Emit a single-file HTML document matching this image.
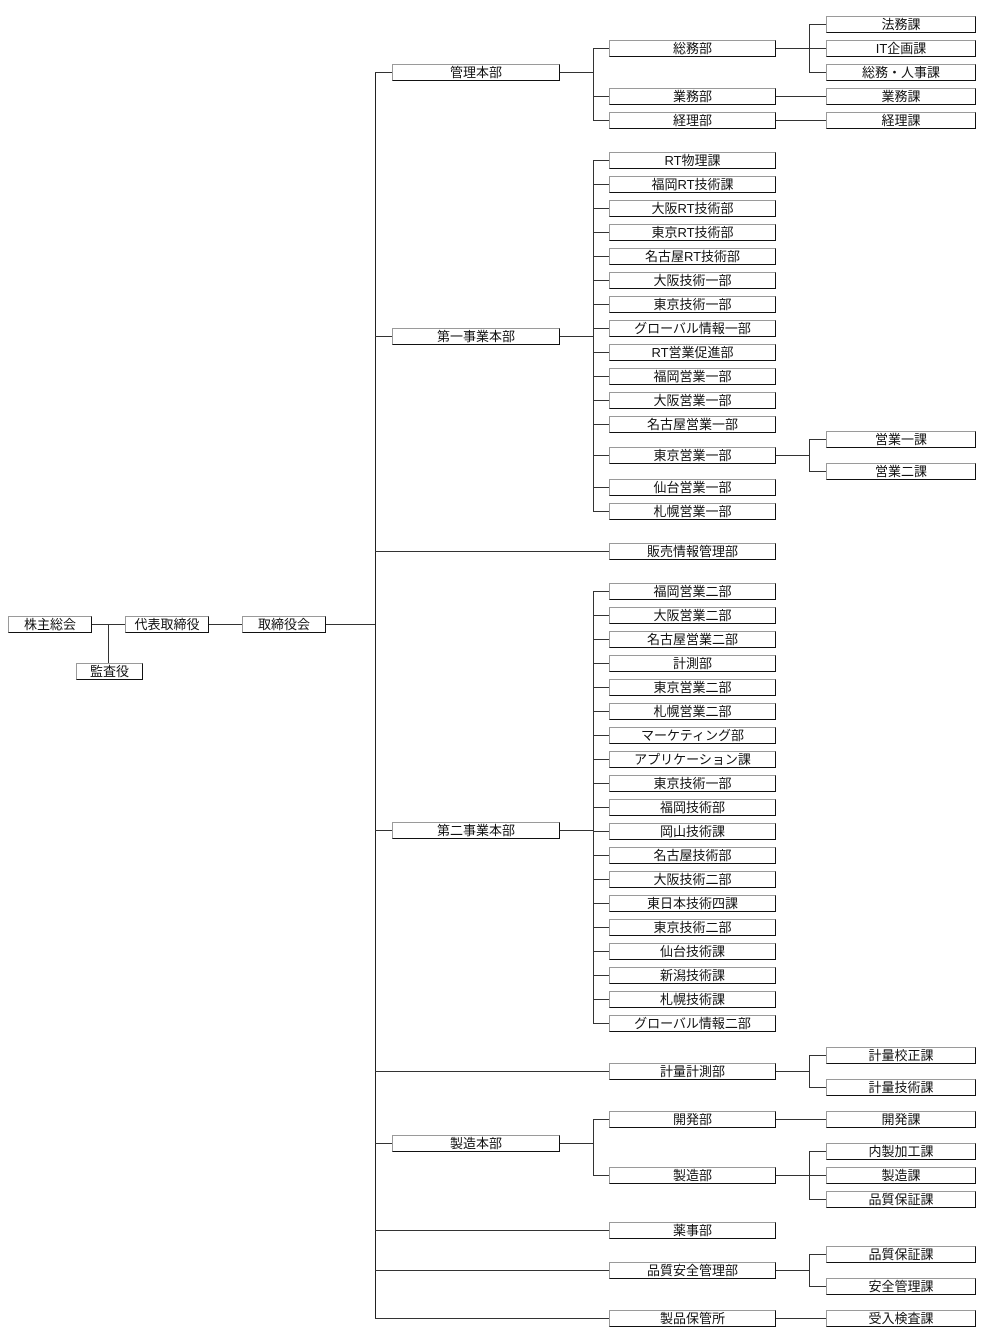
<!DOCTYPE html>
<html lang="ja">
<head>
<meta charset="utf-8">
<style>
html,body{margin:0;padding:0;background:#fff;}
body{width:994px;height:1335px;position:relative;overflow:hidden;font-family:"Liberation Sans","Noto Sans CJK JP",sans-serif;}
svg{position:absolute;left:0;top:0;}
.b{position:absolute;height:17px;box-sizing:border-box;border-style:solid;border-width:1px;border-color:#9a9a9a #111 #111 #9a9a9a;background:#fff;font-size:13px;line-height:16px;text-align:center;color:#111;white-space:nowrap;}
.a{width:84px;}
.h{left:392px;width:168px;}
.c{left:609px;width:167px;}
.d{left:826px;width:150px;}
</style>
</head>
<body>
<svg width="994" height="1335" viewBox="0 0 994 1335" shape-rendering="crispEdges" fill="none" stroke="#333" stroke-width="1">
<path d="M92 624.5H125M108.5 624V663M209 624.5H242M326 624.5H375.5"/>
<path d="M375.5 72V1318.5" stroke="#222"/>
<path d="M375 72.5H392M375 336.5H392M375 551.5H609M375 830.5H392M375 1071.5H609M375 1143.5H392M375 1230.5H609M375 1270.5H609M375 1318.5H609"/>
<path d="M560 72.5H593M593.5 48V120.5M593 48.5H609M593 96.5H609M593 120.5H609"/>
<path d="M776 48.5H809M809.5 24V72.5M809 24.5H826M809 48.5H826M809 72.5H826M776 96.5H826M776 120.5H826"/>
<path d="M560 336.5H593M593.5 160V511.5"/>
<path d="M593 160.5H609M593 184.5H609M593 208.5H609M593 232.5H609M593 256.5H609M593 280.5H609M593 304.5H609M593 328.5H609M593 352.5H609M593 376.5H609M593 400.5H609M593 424.5H609M593 455.5H609M593 487.5H609M593 511.5H609"/>
<path d="M776 455.5H809M809.5 439V471.5M809 439.5H826M809 471.5H826"/>
<path d="M560 830.5H593M593.5 591V1023.5"/>
<path d="M593 591.5H609M593 615.5H609M593 639.5H609M593 663.5H609M593 687.5H609M593 711.5H609M593 735.5H609M593 759.5H609M593 783.5H609M593 807.5H609M593 831.5H609M593 855.5H609M593 879.5H609M593 903.5H609M593 927.5H609M593 951.5H609M593 975.5H609M593 999.5H609M593 1023.5H609"/>
<path d="M776 1071.5H809M809.5 1055V1087.5M809 1055.5H826M809 1087.5H826"/>
<path d="M560 1143.5H593M593.5 1119V1175.5M593 1119.5H609M593 1175.5H609"/>
<path d="M776 1119.5H826M776 1175.5H809M809.5 1151V1199.5M809 1151.5H826M809 1175.5H826M809 1199.5H826"/>
<path d="M776 1270.5H809M809.5 1254V1286.5M809 1254.5H826M809 1286.5H826"/>
<path d="M776 1318.5H826"/>
</svg>

<div class="b a" style="left:8px;top:616px;">株主総会</div>
<div class="b a" style="left:125px;top:616px;">代表取締役</div>
<div class="b a" style="left:242px;top:616px;">取締役会</div>
<div class="b" style="left:76px;top:663px;width:67px;">監査役</div>

<div class="b h" style="top:64px;">管理本部</div>
<div class="b h" style="top:328px;">第一事業本部</div>
<div class="b h" style="top:822px;">第二事業本部</div>
<div class="b h" style="top:1135px;">製造本部</div>

<div class="b c" style="top:40px;">総務部</div>
<div class="b c" style="top:88px;">業務部</div>
<div class="b c" style="top:112px;">経理部</div>

<div class="b c" style="top:152px;">RT物理課</div>
<div class="b c" style="top:176px;">福岡RT技術課</div>
<div class="b c" style="top:200px;">大阪RT技術部</div>
<div class="b c" style="top:224px;">東京RT技術部</div>
<div class="b c" style="top:248px;">名古屋RT技術部</div>
<div class="b c" style="top:272px;">大阪技術一部</div>
<div class="b c" style="top:296px;">東京技術一部</div>
<div class="b c" style="top:320px;">グローバル情報一部</div>
<div class="b c" style="top:344px;">RT営業促進部</div>
<div class="b c" style="top:368px;">福岡営業一部</div>
<div class="b c" style="top:392px;">大阪営業一部</div>
<div class="b c" style="top:416px;">名古屋営業一部</div>
<div class="b c" style="top:447px;">東京営業一部</div>
<div class="b c" style="top:479px;">仙台営業一部</div>
<div class="b c" style="top:503px;">札幌営業一部</div>

<div class="b c" style="top:543px;">販売情報管理部</div>

<div class="b c" style="top:583px;">福岡営業二部</div>
<div class="b c" style="top:607px;">大阪営業二部</div>
<div class="b c" style="top:631px;">名古屋営業二部</div>
<div class="b c" style="top:655px;">計測部</div>
<div class="b c" style="top:679px;">東京営業二部</div>
<div class="b c" style="top:703px;">札幌営業二部</div>
<div class="b c" style="top:727px;">マーケティング部</div>
<div class="b c" style="top:751px;">アプリケーション課</div>
<div class="b c" style="top:775px;">東京技術一部</div>
<div class="b c" style="top:799px;">福岡技術部</div>
<div class="b c" style="top:823px;">岡山技術課</div>
<div class="b c" style="top:847px;">名古屋技術部</div>
<div class="b c" style="top:871px;">大阪技術二部</div>
<div class="b c" style="top:895px;">東日本技術四課</div>
<div class="b c" style="top:919px;">東京技術二部</div>
<div class="b c" style="top:943px;">仙台技術課</div>
<div class="b c" style="top:967px;">新潟技術課</div>
<div class="b c" style="top:991px;">札幌技術課</div>
<div class="b c" style="top:1015px;">グローバル情報二部</div>

<div class="b c" style="top:1063px;">計量計測部</div>
<div class="b c" style="top:1111px;">開発部</div>
<div class="b c" style="top:1167px;">製造部</div>
<div class="b c" style="top:1222px;">薬事部</div>
<div class="b c" style="top:1262px;">品質安全管理部</div>
<div class="b c" style="top:1310px;">製品保管所</div>

<div class="b d" style="top:16px;">法務課</div>
<div class="b d" style="top:40px;">IT企画課</div>
<div class="b d" style="top:64px;">総務・人事課</div>
<div class="b d" style="top:88px;">業務課</div>
<div class="b d" style="top:112px;">経理課</div>
<div class="b d" style="top:431px;">営業一課</div>
<div class="b d" style="top:463px;">営業二課</div>
<div class="b d" style="top:1047px;">計量校正課</div>
<div class="b d" style="top:1079px;">計量技術課</div>
<div class="b d" style="top:1111px;">開発課</div>
<div class="b d" style="top:1143px;">内製加工課</div>
<div class="b d" style="top:1167px;">製造課</div>
<div class="b d" style="top:1191px;">品質保証課</div>
<div class="b d" style="top:1246px;">品質保証課</div>
<div class="b d" style="top:1278px;">安全管理課</div>
<div class="b d" style="top:1310px;">受入検査課</div>
</body>
</html>
